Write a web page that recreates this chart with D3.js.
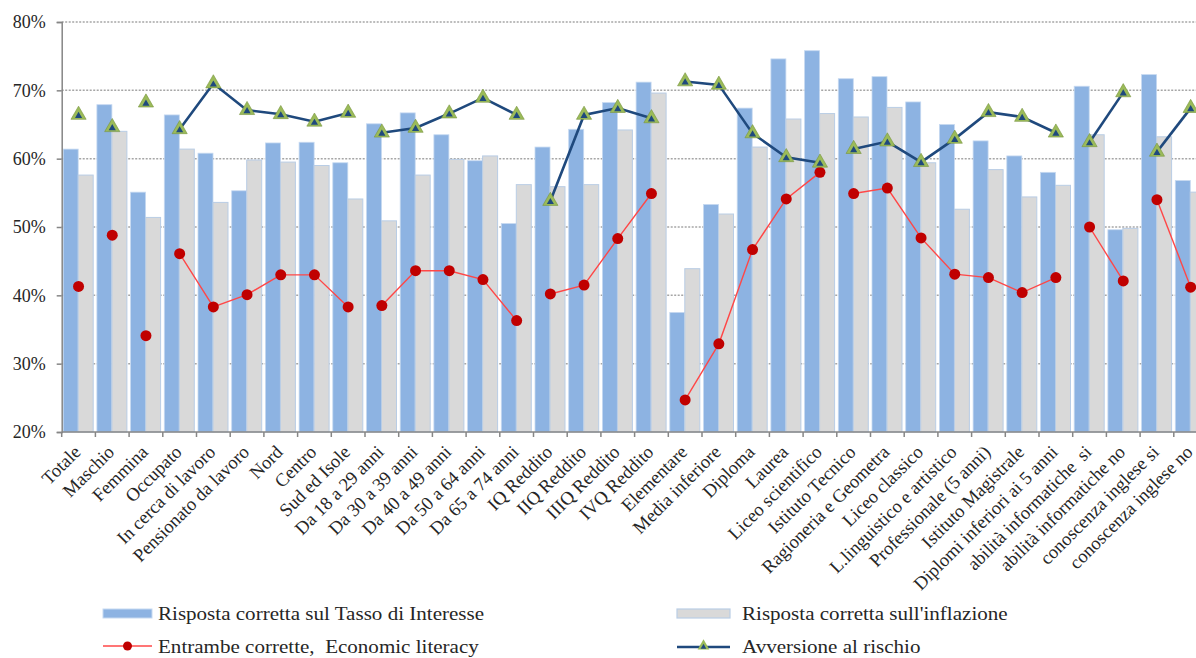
<!DOCTYPE html>
<html>
<head>
<meta charset="utf-8">
<script src="https://cdn.jsdelivr.net/npm/d3@7"></script>
<style>
  body { margin: 0; background: #fff; overflow: hidden; }
  text { font-family: "Liberation Serif", "Times New Roman", serif; fill: #262626; }
</style>
</head>
<body>
<script>
// categories on the x axis
const categories = ["Totale", "Maschio", "Femmina", "Occupato", "In cerca di lavoro", "Pensionato da lavoro",
    "Nord", "Centro", "Sud ed Isole", "Da 18 a 29 anni", "Da 30 a 39 anni", "Da 40 a 49 anni",
    "Da 50 a 64 anni", "Da 65 a 74 anni", "IQ Reddito", "IIQ Reddito", "IIIQ Reddito", "IVQ Reddito",
    "Elementare", "Media inferiore", "Diploma", "Laurea", "Liceo scientifico", "Istituto Tecnico",
    "Ragioneria e Geometra", "Liceo classico", "L.linguistico e artistico", "Professionale (5 anni)",
    "Istituto Magistrale", "Diplomi inferiori ai 5 anni", "abilità informatiche  si", "abilità informatiche no",
    "conoscenza inglese si", "conoscenza inglese no"];

// series (percent)
const interestRate = [61.4, 67.9, 55.1, 66.4, 60.8, 55.3, 62.3, 62.4, 59.4, 65.1, 66.7, 63.5, 59.7, 50.5,
    61.7, 64.3, 68.2, 71.2, 37.5, 53.3, 67.4, 74.6, 75.8, 71.7, 72.0, 68.3, 65.0, 62.6, 60.4, 58.0,
    70.6, 49.6, 72.3, 56.8];
const inflation = [57.6, 64.0, 51.4, 61.4, 53.6, 59.8, 59.5, 59.0, 54.1, 50.9, 57.6, 59.9, 60.4, 56.2,
    55.9, 56.2, 64.2, 69.6, 43.9, 51.9, 61.7, 65.8, 66.6, 66.1, 67.5, 59.4, 52.6, 58.4, 54.4, 56.1,
    63.5, 49.8, 63.2, 55.1];
const literacy = [41.3, 48.8, 34.1, 46.1, 38.3, 40.1, 43.0, 43.0, 38.3, 38.5, 43.6, 43.6, 42.3, 36.3,
    40.2, 41.5, 48.3, 54.9, 24.7, 32.9, 46.7, 54.1, 58.0, 54.9, 55.7, 48.4, 43.1, 42.6, 40.4, 42.6,
    50.0, 42.1, 54.0, 41.2];
const riskAversion = [66.4, 64.6, 68.2, 64.3, 71.0, 67.1, 66.5, 65.4, 66.7, 63.8, 64.5, 66.6, 68.9, 66.4,
    53.8, 66.4, 67.4, 65.9, 71.3, 70.8, 63.7, 60.2, 59.4, 61.4, 62.5, 59.5, 62.9, 66.8, 66.1, 63.8,
    62.4, 69.7, 61.0, 67.4];
// which points are joined by the lines
const groups = [0, 1, 2, 3, 3, 3, 3, 3, 3, 4, 4, 4, 4, 4, 5, 5, 5, 5, 6, 6, 6, 6, 6,
    7, 7, 7, 7, 7, 7, 7, 8, 8, 9, 9];
const yTicks = [20, 30, 40, 50, 60, 70, 80];

const legendNames = ["Risposta corretta sul Tasso di Interesse", "Risposta corretta sull'inflazione",
    "Entrambe corrette,  Economic literacy", "Avversione al rischio"];

let svg = d3.select("body")
    .append("svg")
    .attr("width", 1196)
    .attr("height", 658);

const plotLeft = 61.7, plotTop = 22, plotBottom = 432, band = 33.7;

let x = d3.scaleBand()
    .domain(categories)
    .range([plotLeft, plotLeft + band * categories.length])
    .padding(0);

let y = d3.scaleLinear()
    .domain([20, 80])
    .range([plotBottom, plotTop]);

// gridlines
svg.append("g")
    .selectAll("line")
    .data(yTicks.slice(1))
    .enter().append("line")
    .attr("x1", plotLeft)
    .attr("x2", 1196)
    .attr("y1", d => y(d))
    .attr("y2", d => y(d))
    .attr("stroke", "#a6a6a6")
    .attr("stroke-width", 1.5)
    .attr("stroke-dasharray", "2,1.5");

// bars
let bars = svg.append("g");
bars.selectAll("rect.ir")
    .data(interestRate)
    .enter().append("rect")
    .attr("class", "ir")
    .attr("x", (d, i) => x(categories[i]) + 1.5)
    .attr("width", 15)
    .attr("y", d => y(d))
    .attr("height", d => plotBottom - y(d))
    .attr("fill", "#8db3e2")
    .attr("stroke", "#c6d9f1")
    .attr("stroke-width", 0.8);

bars.selectAll("rect.inf")
    .data(inflation)
    .enter().append("rect")
    .attr("class", "inf")
    .attr("x", (d, i) => x(categories[i]) + 16.5)
    .attr("width", 15)
    .attr("y", d => y(d))
    .attr("height", d => plotBottom - y(d))
    .attr("fill", "#d9d9d9")
    .attr("stroke", "#b9cde5")
    .attr("stroke-width", 1);

// axes
let yAxis = svg.append("g")
    .attr("transform", "translate(" + plotLeft + ",0)")
    .call(d3.axisLeft(y).tickValues(yTicks).tickFormat(d => d + "%").tickSize(5).tickPadding(11));
yAxis.select(".domain").attr("stroke", "#868686").attr("stroke-width", 1.5);
yAxis.selectAll(".tick line").attr("stroke", "#868686").attr("stroke-width", 1.5);
yAxis.selectAll("text")
    .style("font-family", "Liberation Serif, serif")
    .style("font-size", "18px")
    .attr("fill", "#3a3a3a");

let xAxis = svg.append("g")
    .attr("transform", "translate(0," + plotBottom + ")");
xAxis.append("line")
    .attr("x1", plotLeft).attr("x2", 1196)
    .attr("stroke", "#868686").attr("stroke-width", 1.5);
xAxis.selectAll("line.tick")
    .data(categories)
    .enter().append("line")
    .attr("class", "tick")
    .attr("x1", d => x(d)).attr("x2", d => x(d))
    .attr("y1", 0).attr("y2", 5)
    .attr("stroke", "#868686").attr("stroke-width", 1.5);
xAxis.selectAll("text")
    .data(categories)
    .enter().append("text")
    .attr("transform", d => "translate(" + (x(d) + band / 2 - 6) + ",12) rotate(-45)")
    .attr("text-anchor", "end")
    .attr("dy", "0.7em")
    .style("font-size", "18.5px")
    .style("white-space", "pre")
    .text(d => d);

// lines, one path for each group
const groupIds = Array.from(new Set(groups));
const cx = i => x(categories[i]) + band / 2;

let redLine = d3.line().x(d => cx(d)).y(d => y(literacy[d]));
let blueLine = d3.line().x(d => cx(d)).y(d => y(riskAversion[d]));

groupIds.forEach(g => {
    let idx = d3.range(categories.length).filter(i => groups[i] === g);
    if (idx.length < 2) return;
    svg.append("path")
        .datum(idx)
        .attr("d", redLine)
        .attr("fill", "none")
        .attr("stroke", "#ff4747")
        .attr("stroke-width", 1.4);
    svg.append("path")
        .datum(idx)
        .attr("d", blueLine)
        .attr("fill", "none")
        .attr("stroke", "#1f497d")
        .attr("stroke-width", 2.6);
});

// markers
svg.append("g")
    .selectAll("circle")
    .data(literacy)
    .enter().append("circle")
    .attr("cx", (d, i) => cx(i))
    .attr("cy", d => y(d))
    .attr("r", 5.5)
    .attr("fill", "#c00000");

let tri = d3.symbol().type(d3.symbolTriangle);
let triG = svg.append("g");
triG.selectAll("path.outer")
    .data(riskAversion)
    .enter().append("path")
    .attr("class", "outer")
    .attr("transform", (d, i) => "translate(" + cx(i) + "," + y(d) + ")")
    .attr("d", tri.size(100)())
    .attr("fill", "#9bbb59")
    .attr("stroke", "#77933c")
    .attr("stroke-width", 0.6);
triG.selectAll("path.inner")
    .data(riskAversion)
    .enter().append("path")
    .attr("class", "inner")
    .attr("transform", (d, i) => "translate(" + cx(i) + "," + (y(d) + 1) + ")")
    .attr("d", tri.size(22)())
    .attr("fill", "#1f497d");

// legend
let legend = svg.append("g");
legend.append("rect")
    .attr("x", 103).attr("y", 609).attr("width", 49).attr("height", 9)
    .attr("fill", "#8db3e2").attr("stroke", "#c6d9f1");
legend.append("rect")
    .attr("x", 677).attr("y", 609).attr("width", 53).attr("height", 9)
    .attr("fill", "#d9d9d9").attr("stroke", "#b9cde5").attr("stroke-width", 1.2);
legend.append("line")
    .attr("x1", 103).attr("x2", 152).attr("y1", 646).attr("y2", 646)
    .attr("stroke", "#ff4747").attr("stroke-width", 1.4);
legend.append("circle")
    .attr("cx", 127.5).attr("cy", 646).attr("r", 4.5)
    .attr("fill", "#c00000");
legend.append("line")
    .attr("x1", 677).attr("x2", 730).attr("y1", 647).attr("y2", 647)
    .attr("stroke", "#1f497d").attr("stroke-width", 2.6);
legend.append("path")
    .attr("transform", "translate(703.5,646)")
    .attr("d", tri.size(60)())
    .attr("fill", "#9bbb59");
legend.append("path")
    .attr("transform", "translate(703.5,647)")
    .attr("d", tri.size(14)())
    .attr("fill", "#1f497d");

// the legend type in the source is wide, so stretch it a bit
const legendPos = [[158, 620], [742, 620], [158, 653], [742, 653]];
legend.selectAll("text")
    .data(legendNames)
    .enter().append("text")
    .attr("transform", (d, i) => "translate(" + legendPos[i][0] + "," + legendPos[i][1] + ") scale(1.17,1)")
    .style("font-size", "18px")
    .style("white-space", "pre")
    .text(d => d);
</script>
</body>
</html>
